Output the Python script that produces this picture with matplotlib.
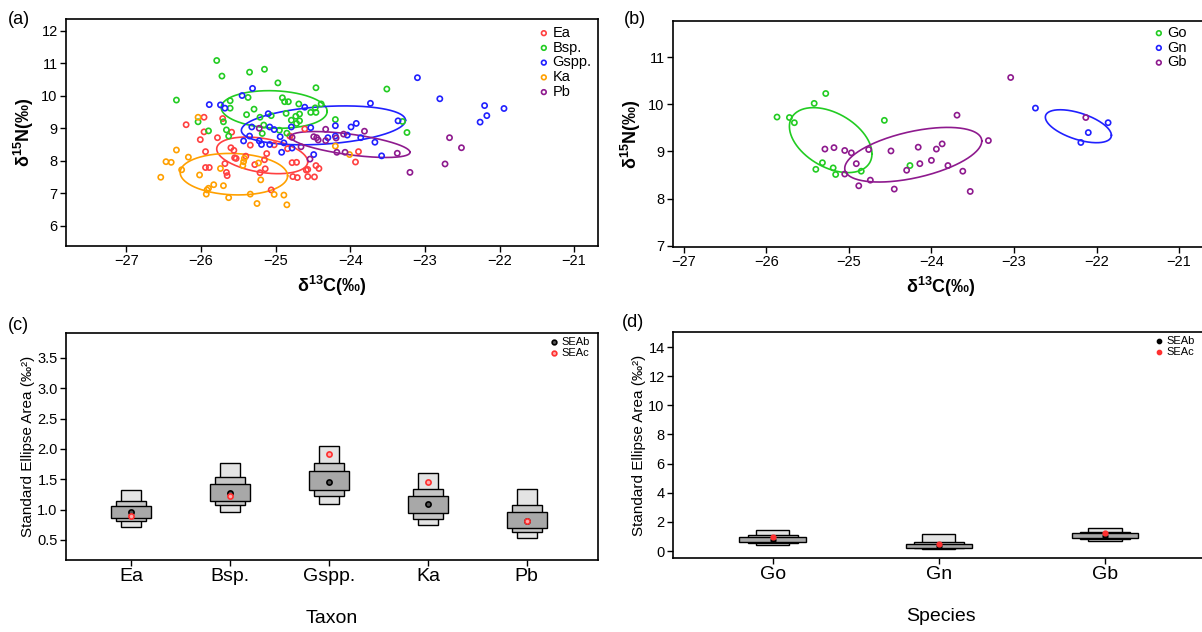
import numpy as np
import matplotlib.pyplot as plt

plt.rcParams['font.family'] = ['Liberation Sans', 'DejaVu Sans']
plt.rcParams['mathtext.default'] = 'regular'

# ---------------- panel (a) data : d13C, d15N per taxon ----------------
ea_x = [-25.96, -25.71, -26.20, -25.96, -25.59, -25.78, -26.01, -24.81, -24.61, -25.34,
        -25.02, -25.60, -24.84, -25.56, -25.94, -25.12, -23.89, -25.40, -25.55, -25.53,
        -24.72, -24.78, -23.93, -25.68, -25.15, -25.28, -25.94, -25.89, -24.46, -24.42,
        -25.14, -24.57, -24.59, -25.66, -25.65, -25.21, -24.77, -24.71, -24.57, -24.48, -25.06]
ea_y = [9.34, 9.30, 9.11, 8.89, 8.88, 8.71, 8.65, 8.76, 8.98, 8.48,
        8.49, 8.40, 8.37, 8.32, 8.28, 8.22, 8.28, 8.14, 8.09, 8.07,
        7.95, 7.94, 7.96, 7.91, 8.03, 7.88, 7.79, 7.79, 7.85, 7.76,
        7.75, 7.73, 7.71, 7.64, 7.54, 7.63, 7.51, 7.48, 7.51, 7.50, 7.10]

bsp_x = [-25.79, -25.72, -25.35, -25.15, -24.97, -24.46, -23.51, -26.33, -25.61, -25.37,
         -24.91, -24.88, -24.83, -24.69, -24.47, -24.39, -25.61, -25.29, -25.39, -25.21,
         -25.06, -24.86, -24.73, -24.68, -24.53, -24.46, -24.79, -24.72, -24.68, -24.20,
         -26.04, -25.70, -25.16, -24.95, -25.66, -25.90, -25.63, -25.18, -24.85, -23.30, -23.24]
bsp_y = [11.09, 10.61, 10.73, 10.82, 10.40, 10.25, 10.21, 9.87, 9.85, 9.95,
         9.94, 9.82, 9.82, 9.75, 9.63, 9.75, 9.62, 9.59, 9.42, 9.34,
         9.39, 9.46, 9.37, 9.44, 9.49, 9.49, 9.25, 9.15, 9.23, 9.27,
         9.20, 9.20, 9.10, 8.94, 8.95, 8.92, 8.76, 8.84, 8.85, 9.21, 8.87]

gspp_x = [-23.10, -22.80, -22.20, -21.94, -22.17, -22.26, -23.73, -25.31, -25.45, -25.89,
          -25.74, -25.68, -24.61, -25.10, -23.36, -23.92, -24.20, -23.99, -24.04, -25.32,
          -25.08, -25.02, -24.79, -24.53, -25.35, -24.94, -23.86, -24.30, -24.20, -25.43,
          -25.22, -25.19, -24.89, -25.08, -23.67, -24.78, -24.92, -24.49, -23.58]
gspp_y = [10.56, 9.91, 9.70, 9.61, 9.39, 9.19, 9.77, 10.23, 10.01, 9.73,
          9.72, 9.62, 9.65, 9.45, 9.23, 9.15, 9.08, 9.04, 8.79, 9.04,
          9.04, 8.96, 9.04, 9.02, 8.76, 8.74, 8.71, 8.71, 8.76, 8.61,
          8.61, 8.50, 8.55, 8.50, 8.57, 8.39, 8.26, 8.19, 8.15]

ka_x = [-26.04, -26.33, -26.17, -26.47, -26.40, -26.54, -26.26, -26.02, -25.74, -25.43,
        -25.42, -25.44, -25.23, -25.20, -25.70, -25.83, -25.90, -25.92, -25.93, -25.63,
        -25.34, -25.02, -24.89, -25.25, -24.85, -24.20, -24.01]
ka_y = [9.34, 8.33, 8.11, 7.97, 7.95, 7.49, 7.72, 7.56, 7.76, 7.97,
        8.07, 7.85, 7.93, 7.41, 7.23, 7.26, 7.15, 7.10, 6.97, 6.86,
        6.97, 6.96, 6.94, 6.68, 6.64, 8.45, 8.19]

pb_x = [-25.22, -24.78, -24.33, -24.09, -23.81, -24.49, -24.45, -24.43, -24.33, -24.19,
        -24.66, -24.18, -24.07, -23.37, -24.54, -22.67, -22.51, -22.73, -23.20]
pb_y = [9.00, 8.72, 8.97, 8.82, 8.91, 8.74, 8.71, 8.64, 8.62, 8.70,
        8.43, 8.26, 8.26, 8.23, 8.05, 8.71, 8.40, 7.90, 7.64]

# ---------------- panel (b) data ----------------
go_x = [-25.87, -25.72, -25.66, -25.42, -25.28, -24.57, -25.32, -25.40, -25.19, -25.16, -24.85, -24.26]
go_y = [9.73, 9.72, 9.61, 10.02, 10.23, 9.66, 8.76, 8.62, 8.65, 8.51, 8.58, 8.70]

gn_x = [-22.74, -21.86, -22.10, -22.19]
gn_y = [9.92, 9.61, 9.40, 9.19]

gb_x = [-23.04, -23.69, -22.13, -23.31, -23.87, -23.94, -24.16, -24.49, -24.76, -24.97,
        -25.05, -25.18, -25.29, -24.91, -24.00, -24.14, -23.80, -23.62, -24.30, -25.05,
        -24.74, -24.88, -24.45, -23.53]
gb_y = [10.57, 9.77, 9.72, 9.23, 9.16, 9.05, 9.09, 9.01, 9.04, 8.97,
        9.02, 9.08, 9.05, 8.74, 8.81, 8.74, 8.70, 8.58, 8.60, 8.52,
        8.39, 8.27, 8.20, 8.15]

# standard ellipses: centre x, centre y, half-extent x, half-extent y, tilt
ell_a = {'Ea': (-25.18, 8.165, 0.61, 0.565, -0.35),
         'Bsp.': (-25.02, 9.58, 0.71, 0.58, -0.10),
         'Gspp.': (-24.36, 9.09, 1.10, 0.60, 0.26),
         'Ka': (-25.56, 7.585, 0.72, 0.64, -0.08),
         'Pb': (-24.00, 8.50, 0.80, 0.40, -0.60)}
ell_b = {'Go': (-25.22, 9.24, 0.50, 0.69, -0.42),
         'Gn': (-22.22, 9.535, 0.40, 0.35, -0.55),
         'Gb': (-24.22, 8.93, 0.83, 0.58, 0.50)}

# ---------------- panel (c) / (d) data: SEA credible intervals ----------------
taxa = ['Ea', 'Bsp.', 'Gspp.', 'Ka', 'Pb']
c_lo95 = [0.71, 0.96, 1.09, 0.74, 0.53]
c_hi95 = [1.32, 1.76, 2.05, 1.61, 1.34]
c_lo75 = [0.81, 1.08, 1.23, 0.85, 0.63]
c_hi75 = [1.15, 1.53, 1.77, 1.34, 1.08]
c_lo50 = [0.86, 1.15, 1.32, 0.94, 0.70]
c_hi50 = [1.06, 1.42, 1.64, 1.22, 0.96]
c_seab = [0.96, 1.28, 1.45, 1.09, 0.82]
c_seac = [0.89, 1.22, 1.92, 1.45, 0.82]

species = ['Go', 'Gn', 'Gb']
d_lo95 = [0.43, 0.14, 0.71]
d_hi95 = [1.46, 1.17, 1.60]
d_lo75 = [0.55, 0.18, 0.82]
d_hi75 = [1.10, 0.64, 1.33]
d_lo50 = [0.62, 0.23, 0.89]
d_hi50 = [0.94, 0.48, 1.21]
d_seab = [0.78, 0.32, 1.05]
d_seac = [0.98, 0.46, 1.26]

col = {'Ea': '#ff4040', 'Bsp.': '#22cc22', 'Gspp.': '#2020ff', 'Ka': '#ffa000', 'Pb': '#8e1a8e',
       'Go': '#22cc22', 'Gn': '#2020ff', 'Gb': '#8e1a8e'}

W, H = 1202, 632
fig = plt.figure(figsize=(W / 100, H / 100), dpi=100)


def box(l, t, r, b):
    return [l / W, 1 - b / H, (r - l) / W, (b - t) / H]


def ellipse(ax, p, c):
    cx, cy, sx, sy, rho = p
    t = np.linspace(0, 2 * np.pi, 300)
    ax.plot(cx + sx * np.cos(t), cy + sy * (rho * np.cos(t) + np.sqrt(1 - rho ** 2) * np.sin(t)),
            color=c, lw=1.2)


def style(ax):
    for s in ax.spines.values():
        s.set_linewidth(1.2)
    ax.tick_params(direction='out', length=4, width=1, labelsize=10.5, pad=2)


def legend_at(ax, x, y, fs):
    # legend anchored at a pixel position of the figure
    return ax.legend(loc='upper left', bbox_to_anchor=(x / W, 1 - y / H), bbox_transform=fig.transFigure,
                     frameon=False, fontsize=fs, handlelength=0.8, handletextpad=0.2,
                     labelspacing=0.05, borderpad=0, borderaxespad=0, markerscale=0.9)


MINUS = ['\u221227', '\u221226', '\u221225', '\u221224', '\u221223', '\u221222', '\u221221']

# ---- (a)
ax = fig.add_axes(box(66, 19, 598, 246))
groups = [('Ea', ea_x, ea_y), ('Bsp.', bsp_x, bsp_y), ('Gspp.', gspp_x, gspp_y),
          ('Ka', ka_x, ka_y), ('Pb', pb_x, pb_y)]
for name, gx, gy in groups:
    ax.scatter(gx, gy, s=14, facecolor='none', edgecolor=col[name], linewidth=1.2, label=name, zorder=3)
for name, _, _ in groups:
    ellipse(ax, ell_a[name], col[name])
ax.set_xlim(-27.81, -20.68)
ax.set_ylim(5.37, 12.37)
ax.set_xticks(range(-27, -20))
ax.set_yticks(range(6, 13))
ax.set_xticklabels(MINUS)
style(ax)
ax.set_xlabel(r'$\delta^{13}$C(‰)', fontsize=13, fontweight='bold', labelpad=4)
ax.set_ylabel(r'$\delta^{15}$N(‰)', fontsize=13, fontweight='bold', labelpad=4)
legend_at(ax, 538, 26, 10.5)
fig.text(8 / W, 1 - 20 / H, '(a)', fontsize=13, va='center')

# ---- (b)
ax = fig.add_axes(box(673, 21, 1208, 247))
for name, gx, gy in [('Go', go_x, go_y), ('Gn', gn_x, gn_y), ('Gb', gb_x, gb_y)]:
    ax.scatter(gx, gy, s=14, facecolor='none', edgecolor=col[name], linewidth=1.2, label=name, zorder=3)
for name in ['Go', 'Gn', 'Gb']:
    ellipse(ax, ell_b[name], col[name])
ax.set_xlim(-27.13, -20.65)
ax.set_ylim(6.97, 11.77)
ax.set_xticks(range(-27, -20))
ax.set_yticks(range(7, 12))
ax.set_xticklabels(MINUS)
ax.spines['right'].set_visible(False)
style(ax)
ax.set_xlabel(r'$\delta^{13}$C(‰)', fontsize=13, fontweight='bold', labelpad=4)
ax.set_ylabel(r'$\delta^{15}$N(‰)', fontsize=13, fontweight='bold', labelpad=4)
legend_at(ax, 1153, 26, 10.5)
fig.text(624 / W, 1 - 20 / H, '(b)', fontsize=13, va='center')


def sea_panel(ax, cats, lo95, hi95, lo75, hi75, lo50, hi50, seab, seac, hollow):
    xs = np.arange(1, len(cats) + 1)
    hi95 = np.array(hi95); lo95 = np.array(lo95)
    hi75 = np.array(hi75); lo75 = np.array(lo75)
    hi50 = np.array(hi50); lo50 = np.array(lo50)
    ax.bar(xs, hi95 - lo95, bottom=lo95, width=0.2, color='#e4e4e4', edgecolor='black', linewidth=1)
    ax.bar(xs, hi75 - lo75, bottom=lo75, width=0.3, color='#c6c6c6', edgecolor='black', linewidth=1)
    ax.bar(xs, hi50 - lo50, bottom=lo50, width=0.4, color='#a8a8a8', edgecolor='black', linewidth=1)
    if hollow:
        ax.scatter(xs, seab, s=14, facecolor='#555555', edgecolor='black', linewidth=1.2, zorder=4, label='SEAb')
        ax.scatter(xs, seac, s=14, facecolor='#ffaaaa', edgecolor='#ff3030', linewidth=1.2, zorder=4, label='SEAc')
    else:
        ax.scatter(xs, seab, s=12, color='black', zorder=4, label='SEAb')
        ax.scatter(xs, seac, s=12, color='#ff3030', zorder=4, label='SEAc')
    ax.set_xticks(xs)
    ax.set_xticklabels(cats)
    style(ax)
    ax.tick_params(axis='x', labelsize=14, pad=2)
    ax.set_ylabel('Standard Ellipse Area (‰²)', fontsize=11, labelpad=2)


# ---- (c)
ax = fig.add_axes(box(66, 333, 598, 560))
sea_panel(ax, taxa, c_lo95, c_hi95, c_lo75, c_hi75, c_lo50, c_hi50, c_seab, c_seac, True)
ax.set_xlim(0.34, 5.72)
ax.set_ylim(0.17, 3.91)
ax.set_yticks(np.arange(0.5, 3.51, 0.5))
ax.set_yticklabels(['%.1f' % v for v in np.arange(0.5, 3.51, 0.5)])
ax.set_xlabel('Taxon', fontsize=14, labelpad=18)
legend_at(ax, 550, 337, 8)
fig.text(8 / W, 1 - 326 / H, '(c)', fontsize=13, va='center')

# ---- (d)
ax = fig.add_axes(box(673, 332, 1208, 558))
sea_panel(ax, species, d_lo95, d_hi95, d_lo75, d_hi75, d_lo50, d_hi50, d_seab, d_seac, False)
ax.set_xlim(0.40, 3.62)
ax.set_ylim(-0.48, 15.03)
ax.set_yticks(range(0, 15, 2))
ax.spines['right'].set_visible(False)
ax.set_xlabel('Species', fontsize=14, labelpad=18)
legend_at(ax, 1155, 336, 8)
fig.text(622 / W, 1 - 323 / H, '(d)', fontsize=13, va='center')

fig.savefig('out.png', dpi=100)
